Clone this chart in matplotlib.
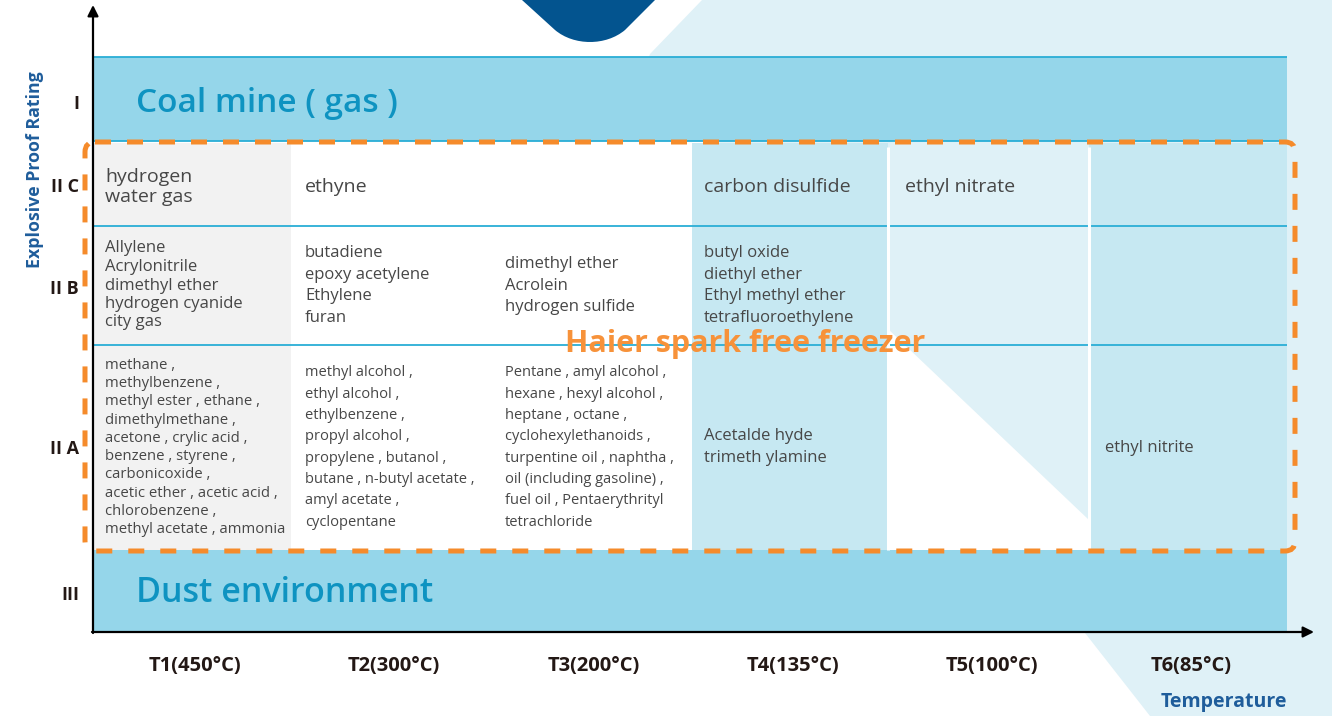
import matplotlib
matplotlib.use("Agg")
import matplotlib.pyplot as plt
from matplotlib.patches import Rectangle, Polygon, FancyBboxPatch, PathPatch
from matplotlib.path import Path

plt.rcParams['font.family'] = ['Open Sans', 'DejaVu Sans']

# ---------------- data ----------------
temperature_classes = ["T1(450°C)", "T2(300°C)", "T3(200°C)",
                       "T4(135°C)", "T5(100°C)", "T6(85°C)"]
rating_labels = ["I", "II C", "II B", "II A", "III"]
zone_titles = ["Coal mine ( gas )", "Dust environment"]
product_label = "Haier spark free freezer"
x_title = "Temperature"
y_title = "Explosive Proof Rating"

gases_IIC = [["hydrogen", "water gas"], ["ethyne"], [],
             ["carbon disulfide"], ["ethyl nitrate"], []]
gases_IIB = [["Allylene", "Acrylonitrile", "dimethyl ether", "hydrogen cyanide", "city gas"],
             ["butadiene", "epoxy acetylene", "Ethylene", "furan"],
             ["dimethyl ether", "Acrolein", "hydrogen sulfide"],
             ["butyl oxide", "diethyl ether", "Ethyl methyl ether", "tetrafluoroethylene"],
             [], []]
gases_IIA = [["methane ,", "methylbenzene ,", "methyl ester , ethane ,", "dimethylmethane ,",
              "acetone , crylic acid ,", "benzene , styrene ,", "carbonicoxide ,",
              "acetic ether , acetic acid ,", "chlorobenzene ,", "methyl acetate , ammonia"],
             ["methyl alcohol ,", "ethyl alcohol ,", "ethylbenzene ,", "propyl alcohol ,",
              "propylene , butanol ,", "butane , n-butyl acetate ,", "amyl acetate ,",
              "cyclopentane"],
             ["Pentane , amyl alcohol ,", "hexane , hexyl alcohol ,", "heptane , octane ,",
              "cyclohexylethanoids ,", "turpentine oil , naphtha ,", "oil (including gasoline) ,",
              "fuel oil , Pentaerythrityl", "tetrachloride"],
             ["Acetalde hyde", "trimeth ylamine"], [], ["ethyl nitrite"]]

# ---------------- layout ----------------
W, H = 1332, 716
col_edges = [93, 291, 490, 692, 888, 1089, 1287]
row_edges = [57, 141, 226, 345, 550, 632]
text_pad = [12, 14, 15, 12, 17, 16]

BAND = '#95d6ea'
CELL_BLUE = '#c6e8f2'
PALE = '#dff1f7'
GRAY = '#f2f2f2'
LINE_BLUE = '#2aaed6'
ORANGE = '#f58b2b'
TXT = '#474747'
TITLE_BLUE = '#0e93c1'
DARK = '#231815'
NAVY = '#1f5d9b'

fig = plt.figure(figsize=(W / 100, H / 100), dpi=100)
ax = fig.add_axes([0, 0, 1, 1])
ax.set_xlim(0, W)
ax.set_ylim(H, 0)
ax.axis('off')

# background decorations
ax.add_patch(Polygon([(702, 0), (W, 0), (W, H), (1150, H), (1085, 633), (1089, 520),
                      (888, 329), (652, 86), (645, 68), (650, 54)],
                     closed=True, fc=PALE, ec='none', zorder=0))
verts = [(522, 0), (555, 30), (574, 46), (606, 46), (625, 30), (655, 0), (522, 0)]
codes = [Path.MOVETO, Path.LINETO, Path.CURVE4, Path.CURVE4, Path.CURVE4,
         Path.LINETO, Path.CLOSEPOLY]
ax.add_patch(PathPatch(Path(verts, codes), fc='#03548f', ec='none', zorder=0))

x0, x1 = col_edges[0], col_edges[-1]
# zone bands (I and III)
ax.add_patch(Rectangle((x0, row_edges[0]), x1 - x0, row_edges[1] - row_edges[0],
                       fc=BAND, ec='none', zorder=1))
ax.add_patch(Rectangle((x0, row_edges[4]), x1 - x0, row_edges[5] - row_edges[4],
                       fc=BAND, ec='none', zorder=1))

# gas columns backgrounds
col_fill = [GRAY, 'white', 'white', CELL_BLUE, None, CELL_BLUE]
top, bot = row_edges[1], row_edges[4]
for i, fc in enumerate(col_fill):
    if fc is None:
        continue
    ax.add_patch(Rectangle((col_edges[i], top + 2), col_edges[i + 1] - col_edges[i],
                           bot - top - 2, fc=fc, ec='none', zorder=1))

# grid lines
ax.hlines(row_edges[:4], x0, x1, colors=LINE_BLUE, lw=1.3, zorder=2)
ax.vlines([col_edges[4], col_edges[5]], top + 6, bot, colors='white', lw=2.2, zorder=2)

# axes arrows
ax.annotate('', xy=(x0, 5), xytext=(x0, row_edges[5] + 1),
            arrowprops=dict(arrowstyle='-|>', color='black', lw=1.6,
                            mutation_scale=16, shrinkA=0, shrinkB=0), zorder=6)
ax.annotate('', xy=(1314, row_edges[5]), xytext=(x0 - 1, row_edges[5]),
            arrowprops=dict(arrowstyle='-|>', color='black', lw=1.6,
                            mutation_scale=16, shrinkA=0, shrinkB=0), zorder=6)

# orange dashed frame
ax.add_patch(FancyBboxPatch((85, 142), 1210, 409,
                            boxstyle='round,pad=0,rounding_size=10',
                            fill=False, ec=ORANGE, lw=3.6,
                            linestyle=(0, (3.2, 3.2)), zorder=5))

# row labels
label_dy = [5, 4, 3, 1, 4]
for lab, a, b, d in zip(rating_labels, row_edges[:-1], row_edges[1:], label_dy):
    ax.text(79, (a + b) / 2 + d, lab, ha='right', va='center', fontsize=13,
            fontweight='bold', color=DARK, zorder=7)

# column labels
for lab, a, b in zip(temperature_classes, col_edges[:-1], col_edges[1:]):
    ax.text((a + b) / 2 + 3, 666, lab, ha='center', va='center', fontsize=14.5,
            fontweight='bold', color=DARK, zorder=7)

ax.text(1287, 702, x_title, ha='right', va='center', fontsize=14,
        fontweight='bold', color=NAVY)
ax.text(35, 170, y_title, ha='center', va='center', rotation=90, fontsize=12.8,
        fontweight='bold', color=NAVY)

# zone titles
ax.text(136, (row_edges[0] + row_edges[1]) / 2 + 5, zone_titles[0], ha='left', va='center',
        fontsize=24, fontweight='semibold', color=TITLE_BLUE, zorder=7)
ax.text(136, (row_edges[4] + row_edges[5]) / 2 + 2, zone_titles[1], ha='left', va='center',
        fontsize=24.5, fontweight='semibold', color=TITLE_BLUE, zorder=7)


def cell_text(lines, col, r0, r1, size, pitch, dy=0):
    if not lines:
        return
    cy = (r0 + r1) / 2 + dy
    n = len(lines)
    for k, s in enumerate(lines):
        y = cy + (k - (n - 1) / 2) * pitch
        ax.text(col_edges[col] + text_pad[col], y, s, ha='left', va='center', fontsize=size,
                color=TXT, zorder=7)


for c, lines in enumerate(gases_IIC):
    cell_text(lines, c, row_edges[1], row_edges[2], 14, 20, dy=3)
for c, lines in enumerate(gases_IIB):
    cell_text(lines, c, row_edges[2], row_edges[3], 12, 18.5 if c == 0 else 21.5)
for c, lines in enumerate(gases_IIA):
    if c == 0:
        cell_text(lines, c, row_edges[3], row_edges[4], 10.7, 18.3)
    elif c in (1, 2):
        cell_text(lines, c, row_edges[3], row_edges[4], 10.5, 21.4)
    else:
        cell_text(lines, c, row_edges[3], row_edges[4], 12, 22)

# product label
ax.text(745, 344, product_label, ha='center', va='center', fontsize=22,
        fontweight='bold', color='#f7923a', zorder=8)

fig.savefig('out.png', dpi=100)
